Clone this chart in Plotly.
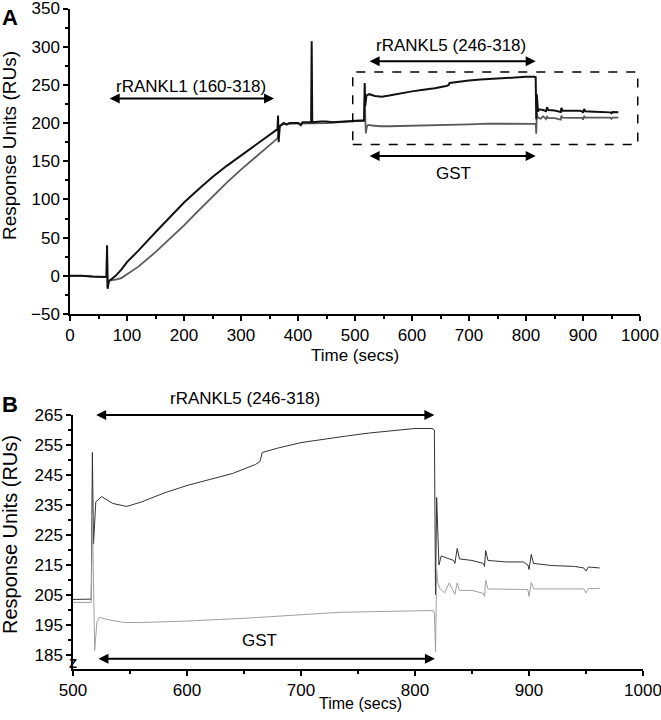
import plotly.graph_objects as go

# ---- data ----
time_black = [0, 20, 40, 55, 64, 65, 66, 68, 70, 80, 90, 100, 120, 150, 175, 200, 225, 250, 275, 300,
              325, 350, 364, 365, 366, 368, 375, 380, 385, 400, 405, 408, 420, 423, 424, 425, 440, 450,
              460, 480, 500, 516, 517, 518, 520, 525, 535, 547, 560, 580, 600, 620, 640, 660, 664, 666,
              680, 700, 720, 740, 760, 780, 800, 815, 817, 818, 819, 821, 823, 830, 834, 835, 837, 839,
              850, 860, 861, 862, 864, 880, 895, 899, 900, 902, 904, 920, 940, 948, 950, 952, 962]
resp_black = [0, 0, -1, -1.5, -1.5, 40, -17, -8, -6, 0, 8, 18, 33, 57, 77, 96, 113, 129.5, 144, 157.5,
              170, 184, 192, 210, 175, 196, 200, 198, 200, 200, 197, 201, 201, 201, 307, 201, 202, 202,
              201, 202, 203.5, 203.6, 252.5, 222, 236, 237.8, 235.5, 234.5, 236, 239, 241.5, 243.5, 245.5, 248.5, 249.5, 252.5,
              254, 255.8, 257, 258, 259, 259.8, 260.5, 260.5, 260, 205, 237.5, 215, 218, 217, 216.5, 215.5, 220.5, 217,
              216.5, 215.5, 214.5, 219.8, 216.5, 216, 216, 215, 213.5, 218.5, 215.5, 214.8, 214.5, 214, 213, 214.3, 214]

time_gray = [0, 20, 40, 55, 64, 65, 66, 68, 70, 80, 90, 100, 120, 150, 175, 200, 225, 250, 275, 300,
             325, 350, 364, 365, 368, 375, 400, 450, 500, 516, 517, 519, 521, 523, 530, 545, 560, 600,
             650, 700, 734, 760, 804, 816, 817, 818, 819, 820, 822, 826, 830, 835, 837, 839, 850, 860,
             861, 862, 864, 880, 899, 900, 902, 904, 930, 948, 950, 952, 962]
resp_gray = [0, 0, -1, -1.5, -1.5, 35, -15, -6, -6, -5, -3, 2, 12, 31, 48, 66, 85, 104, 122, 139,
             155, 170, 180, 183, 196, 199, 199.5, 200, 202.5, 202.5, 232, 186.5, 196, 197.5, 196.8, 195.8, 195.8, 196.3,
             197.2, 198.4, 199.2, 199.4, 199.8, 199.8, 199, 186, 213.5, 209, 207, 205.7, 209, 205.2, 209, 206.5, 206.5, 205.5,
             204.5, 209.8, 207, 206.8, 206.8, 204.5, 209.1, 207, 207, 207, 205.7, 207.1, 207.2]

x_ticks_a = [0, 100, 200, 300, 400, 500, 600, 700, 800, 900, 1000]
y_ticks_a = [-50, 0, 50, 100, 150, 200, 250, 300, 350]
x_ticks_b = [500, 600, 700, 800, 900, 1000]
y_ticks_b = [185, 195, 205, 215, 225, 235, 245, 255, 265]

FONT = "Liberation Sans, Arial, sans-serif"
W, H = 661, 720

fig = go.Figure()
# Panel A
fig.add_trace(go.Scatter(x=time_gray, y=resp_gray, mode="lines", line=dict(color="#5a5a5a", width=1.8),
                         xaxis="x", yaxis="y", showlegend=False, hoverinfo="skip"))
fig.add_trace(go.Scatter(x=time_black, y=resp_black, mode="lines", line=dict(color="#111111", width=2),
                         xaxis="x", yaxis="y", showlegend=False, hoverinfo="skip"))
# Panel B
fig.add_trace(go.Scatter(x=time_black, y=resp_black, mode="lines", line=dict(color="#333333", width=1),
                         xaxis="x2", yaxis="y2", showlegend=False, hoverinfo="skip"))
fig.add_trace(go.Scatter(x=time_gray, y=resp_gray, mode="lines", line=dict(color="#a0a0a0", width=1),
                         xaxis="x2", yaxis="y2", showlegend=False, hoverinfo="skip"))

axis_common = dict(showline=True, linecolor="black", linewidth=1.5, showgrid=False, zeroline=False,
                   ticks="outside", ticklen=5, tickwidth=1.5, tickcolor="black", automargin=False,
                   ticklabeloverflow="allow",
                   tickfont=dict(family=FONT, size=17, color="black"), fixedrange=True)

fig.update_layout(
    template="none",
    width=W, height=H, margin=dict(l=0, r=0, t=0, b=0, pad=0), autosize=False,
    paper_bgcolor="white", plot_bgcolor="white",
    font=dict(family=FONT, color="black"),
    xaxis=dict(domain=[70 / W, 640 / W], anchor="y", range=[0, 1000], tickvals=x_ticks_a,
               minor=dict(dtick=50, tick0=0, ticks="outside", ticklen=3, tickwidth=1.5, tickcolor="black"),
               **axis_common),
    yaxis=dict(domain=[1 - 314 / H, 1 - 8.5 / H], anchor="x", range=[-50, 350], tickvals=y_ticks_a,
               minor=dict(dtick=25, tick0=0, ticks="outside", ticklen=3, tickwidth=1.5, tickcolor="black"),
               **axis_common),
    xaxis2=dict(domain=[73 / W, 643 / W], anchor="y2", range=[500, 1000], tickvals=x_ticks_b,
                minor=dict(dtick=50, tick0=500, ticks="outside", ticklen=3, tickwidth=1.5, tickcolor="black"),
                **axis_common),
    yaxis2=dict(domain=[1 - 669 / H, 1 - 415 / H], anchor="x2", range=[180.3, 265], tickvals=y_ticks_b,
                minor=dict(dtick=5, tick0=185, ticks="outside", ticklen=3, tickwidth=1.5, tickcolor="black"),
                **axis_common),
)

ann = []
def text(x, y, s, xref="x", yref="y", size=17, bold=False, angle=0):
    ann.append(dict(x=x, y=y, xref=xref, yref=yref, text=("<b>%s</b>" % s) if bold else s, showarrow=False,
                    xanchor="center", yanchor="middle", textangle=angle,
                    font=dict(family=FONT, size=size, color="black")))

def darrow(x0, x1, y, xr="x", yr="y"):
    ann.append(dict(x=x1, y=y, ax=x0, ay=y, xref=xr, yref=yr, axref=xr, ayref=yr, text="",
                    showarrow=True, arrowhead=2, arrowside="end+start", arrowsize=1, arrowwidth=2,
                    arrowcolor="black"))

# Panel A annotations
text(212, 248, "rRANKL1 (160-318)")
darrow(67, 358, 232)
text(668, 302, "rRANKL5 (246-318)")
darrow(523, 817, 281)
darrow(523, 817, 157)
text(672, 134, "GST")
# Panel B annotations
text(245 / W, 1 - 398 / H, "rRANKL5 (246-318)", xref="paper", yref="paper")
darrow(519, 817, 265, "x2", "y2")
text(664, 189.7, "GST", xref="x2", yref="y2")
darrow(521, 817.5, 183.7, "x2", "y2")

# panel letters and axis titles
text(10 / W, 1 - 17 / H, "A", xref="paper", yref="paper", size=22, bold=True)
text(10 / W, 1 - 404 / H, "B", xref="paper", yref="paper", size=22, bold=True)
text(355 / W, 1 - 355 / H, "Time (secs)", xref="paper", yref="paper", size=17)
text(360 / W, 1 - 703 / H, "Time (secs)", xref="paper", yref="paper", size=16)
text(10 / W, 1 - 146 / H, "Response Units (RUs)", xref="paper", yref="paper", size=19, angle=-90)
text(10 / W, 1 - 535 / H, "Response Units (RUs)", xref="paper", yref="paper", size=20, angle=-90)
# axis break mark on panel B
text(73 / W, 1 - 663 / H, "Z", xref="paper", yref="paper", size=13, bold=True)

fig.update_layout(annotations=ann)

# dashed box around the region enlarged in panel B
fig.add_shape(type="rect", xref="x", yref="y", x0=496, x1=996, y0=172, y1=267,
              line=dict(color="black", width=1.5, dash="dash"))

fig.write_html("out.html", config={"displayModeBar": False},
               post_script="document.body.style.margin='0';document.body.style.overflow='hidden';")
